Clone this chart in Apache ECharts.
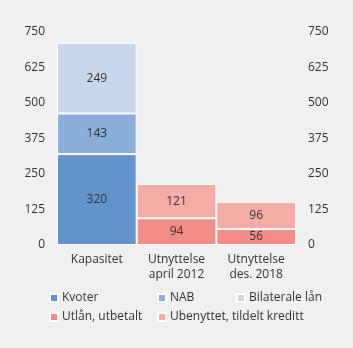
<!DOCTYPE html>
<html><head><meta charset="utf-8">
<script src="https://cdn.jsdelivr.net/npm/echarts@6/dist/echarts.min.js"></script>
<style>html,body{margin:0;padding:0;background:#f0f0f0;}#c{width:353px;height:348px;}</style>
</head><body><div id="c"></div>
<script>
const categories = ['Kapasitet', 'Utnyttelse\napril 2012', 'Utnyttelse\ndes. 2018'];
const seriesNames = ['Kvoter', 'NAB', 'Bilaterale lån', 'Utlån, utbetalt', 'Ubenyttet, tildelt kreditt'];
const kvoter = [320, '-', '-'];
const nab = [143, '-', '-'];
const bilaterale = [249, '-', '-'];
const utlan = ['-', 94, 56];
const ubenyttet = ['-', 121, 96];
const yTicks = [0, 125, 250, 375, 500, 625, 750];
const colors = ['#6393cc', '#8bafdb', '#c9d6ec', '#f28c86', '#f5aca4'];

const font = '"Open Sans", sans-serif';
const data = [kvoter, nab, bilaterale, utlan, ubenyttet];
const series = seriesNames.map((n, i) => ({
  name: n, type: 'bar', stack: 'a', data: data[i], barWidth: '100%',
  itemStyle: { color: colors[i], borderColor: '#ffffff', borderWidth: 1 },
  label: { show: true, position: 'inside', color: '#333', fontFamily: font, fontSize: 12 },
  emphasis: { disabled: true }
}));
const legendPos = [[49, 292], [157, 292], [236, 292], [49, 311], [157, 311]];
const legends = seriesNames.map((n, i) => ({
  data: [n], left: legendPos[i][0], top: legendPos[i][1], itemWidth: 8, itemHeight: 8, itemGap: 5,
  icon: 'rect', selectedMode: false, padding: 0,
  textStyle: { fontFamily: font, fontSize: 12, color: '#333', padding: [0, 0, 0, -1] }
}));
const yAx = (pos) => ({
  type: 'value', position: pos, min: yTicks[0], max: yTicks[yTicks.length - 1], interval: 125,
  splitLine: { show: false }, axisLine: { show: false }, axisTick: { show: false },
  axisLabel: { fontFamily: font, fontSize: 12, color: '#333', margin: 12 }
});
const chart = echarts.init(document.getElementById('c'));
chart.setOption({
  backgroundColor: '#f0f0f0',
  animation: false,
  grid: { left: 57, right: 57, top: 32, bottom: 103 },
  legend: legends,
  xAxis: { type: 'category', data: categories, axisLine: { show: false }, axisTick: { show: false },
    axisLabel: { fontFamily: font, fontSize: 12, color: '#333', margin: 7, lineHeight: 15 } },
  yAxis: [yAx('left'), yAx('right')],
  series: series
});
</script></body></html>
